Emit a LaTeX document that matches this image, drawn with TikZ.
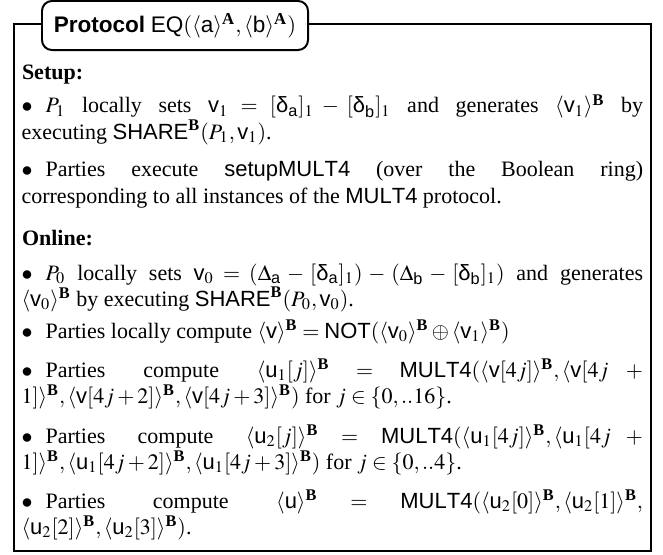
\documentclass[tikz,border=0pt]{standalone}
\usepackage{mathptmx}
\usepackage[no-math]{fontspec}
\setmainfont{Liberation Serif}[NFSSFamily=libserif]
\setsansfont{Liberation Sans}[NFSSFamily=libsans]
\DeclareMathAlphabet{\mathsf}{TU}{libsans}{m}{n}
\DeclareMathAlphabet{\mathbf}{TU}{libserif}{bx}{n}
\newcommand{\dlt}{\mbox{\sffamily δ}}
\newcommand{\sh}[1]{\langle #1\rangle^{\mathbf{B}}}
\newcommand{\fbreak}{\penalty-10000 }
\newcommand{\bul}{\mbox{$\bullet$}\hspace*{5.9pt}}
\tikzset{
  outerbox/.style={draw=black,line width=1.2pt},
  titlebox/.style={draw=black,fill=white,line width=0.9pt,rounded corners=4.5pt},
  para/.style={anchor=base west,inner sep=0pt,text width=282.5pt,align=justify,
    font=\fontsize{10}{12}\selectfont},
  titletext/.style={anchor=base,inner sep=0pt,font=\fontsize{10.25}{12}\selectfont},
}
\begin{document}
\begin{tikzpicture}[x=1pt,y=1pt]
\useasboundingbox (0,0) rectangle (301.36,-251.82);
\draw[outerbox] (6.36,-10.91) rectangle (295.9,-250.45);
\draw[titlebox] (19.09,-0.45) rectangle (140,-22.73);
\node[titletext] (title) at (79.5,-14.7) {\textsf{\bfseries Protocol} $\mathsf{EQ}(\langle\mathsf{a}\rangle^{\mathbf{A}},\langle\mathsf{b}\rangle^{\mathbf{A}})$};
\node[para] (setup) at (9.8,-36.36) {\textbf{Setup:}};
\node[para] (s1) at (9.6,-51.36) {\bul$P_1$ locally sets $\mathsf{v}_1=[\dlt_{\mathsf{a}}]_1-[\dlt_{\mathsf{b}}]_1$ and generates $\sh{\mathsf{v}_1}$ by\linebreak executing $\mathsf{SHARE}^{\mathbf{B}}(P_1,\mathsf{v}_1)$.};
\node[para] (s2) at (9.6,-80.45) {\bul Parties execute $\mathsf{setupMULT4}$ (over the Boolean ring)\linebreak corresponding to all instances of the $\mathsf{MULT4}$ protocol.};
\node[para] (online) at (9.8,-111.36) {\textbf{Online:}};
\node[para] (o1) at (9.6,-127.27) {\bul$P_0$ locally sets $\mathsf{v}_0=(\Delta_{\mathsf{a}}-[\dlt_{\mathsf{a}}]_1)-(\Delta_{\mathsf{b}}-[\dlt_{\mathsf{b}}]_1)$ and generates\linebreak $\sh{\mathsf{v}_0}$ by executing $\mathsf{SHARE}^{\mathbf{B}}(P_0,\mathsf{v}_0)$.};
\node[para] (o2) at (9.6,-153.64) {\bul Parties locally compute $\sh{\mathsf{v}}=\mathsf{NOT}(\sh{\mathsf{v}_0}\oplus\sh{\mathsf{v}_1})$};
\node[para] (o3) at (9.6,-171.36) {\bul Parties compute $\sh{\mathsf{u}_1[j]}=\mathsf{MULT4}(\sh{\mathsf{v}[4j]},\langle\mathsf{v}[4j+\fbreak 1]\rangle^{\mathbf{B}},\sh{\mathsf{v}[4j+2]},\sh{\mathsf{v}[4j+3]})$ for $j\in\{0,..16\}$.};
\node[para] (o4) at (9.6,-201.36) {\bul Parties compute $\sh{\mathsf{u}_2[j]}=\mathsf{MULT4}(\sh{\mathsf{u}_1[4j]},\langle\mathsf{u}_1[4j+\fbreak 1]\rangle^{\mathbf{B}},\sh{\mathsf{u}_1[4j+2]},\sh{\mathsf{u}_1[4j+3]})$ for $j\in\{0,..4\}$.};
\node[para] (o5) at (9.6,-230.91) {\bul Parties compute $\sh{\mathsf{u}}=\mathsf{MULT4}(\sh{\mathsf{u}_2[0]},\sh{\mathsf{u}_2[1]},\fbreak\sh{\mathsf{u}_2[2]},\sh{\mathsf{u}_2[3]})$.};
\end{tikzpicture}
\end{document}
